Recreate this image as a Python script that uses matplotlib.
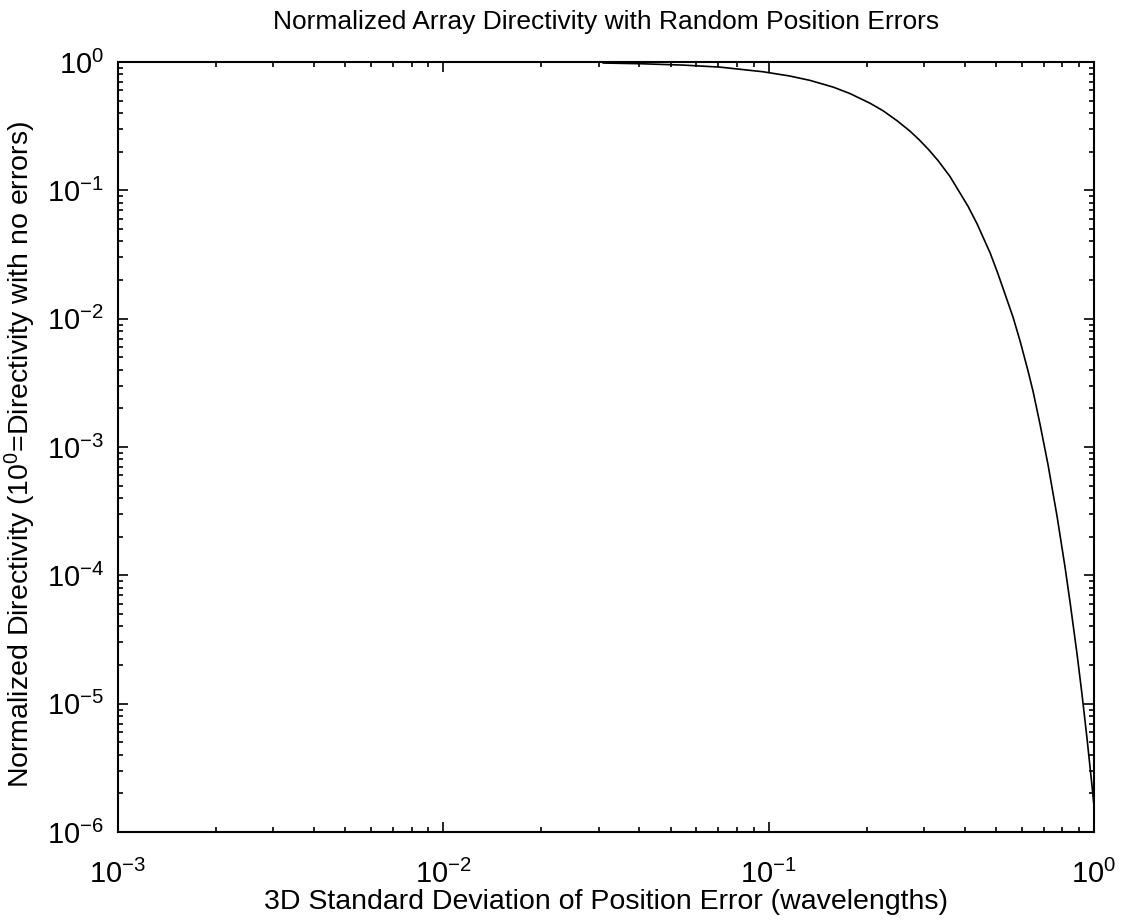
import numpy as np
import matplotlib
matplotlib.use("Agg")
import matplotlib.pyplot as plt
from matplotlib.ticker import LogLocator, FuncFormatter, NullFormatter

# curve (position error std, normalized directivity)
sigma = [0.031, 0.040, 0.0546, 0.071, 0.0962, 0.116, 0.134, 0.158, 0.178,
         0.205, 0.225, 0.248, 0.272, 0.290, 0.310, 0.332, 0.361, 0.410,
         0.437, 0.480, 0.507, 0.541, 0.564, 0.593, 0.627, 0.650, 0.683,
         0.722, 0.770, 0.815, 0.845, 0.888, 0.919, 0.952, 0.986, 1.0]
directivity = [0.982, 0.970, 0.946, 0.912, 0.839, 0.778, 0.719, 0.637,
               0.567, 0.477, 0.416, 0.349, 0.289, 0.248, 0.208, 0.170,
               0.128, 0.0751, 0.0549, 0.0323, 0.0223, 0.0139, 0.01025,
               0.00666, 0.00391, 0.00270, 0.00149, 7.31e-4, 2.88e-4,
               1.15e-4, 6.06e-5, 2.38e-5, 1.17e-5, 5.33e-6, 2.29e-6, 1.59e-6]

title = "Normalized Array Directivity with Random Position Errors"
xlabel = "3D Standard Deviation of Position Error (wavelengths)"
ylabel = "Normalized Directivity ($\\mathregular{10^0}$=Directivity with no errors)"

plt.rcParams['font.family'] = ['Liberation Sans', 'DejaVu Sans']
plt.rcParams['mathtext.fontset'] = 'custom'
plt.rcParams['mathtext.rm'] = 'Liberation Sans'
plt.rcParams['axes.unicode_minus'] = False


def pow_label(v, pos):
    e = int(round(np.log10(v)))
    return "$\\mathregular{10^{%d}}$" % e


fig = plt.figure(figsize=(11.25, 9.24), dpi=100)
ax = fig.add_axes([118 / 1125, 1 - 832 / 924, (1094 - 118) / 1125, (832 - 62) / 924])

ax.plot(sigma, directivity, color='black', linewidth=1.2)
ax.set_xscale('log')
ax.set_yscale('log')
ax.set_xlim(1e-3, 1)
ax.set_ylim(1e-6, 1)

for axis in (ax.xaxis, ax.yaxis):
    axis.set_major_locator(LogLocator(base=10, numticks=10))
    axis.set_minor_locator(LogLocator(base=10, subs=np.arange(2, 10), numticks=10))
    axis.set_major_formatter(FuncFormatter(pow_label))
    axis.set_minor_formatter(NullFormatter())

ax.tick_params(which='both', direction='in', top=True, right=True, labelsize=21)
ax.tick_params(axis='x', which='major', pad=20)
ax.tick_params(axis='y', which='major', pad=10)
ax.tick_params(which='major', length=7, width=1.2)
ax.tick_params(which='minor', length=3.5, width=1.2)
for s in ax.spines.values():
    s.set_linewidth(1.5)

ax.set_title(title, fontsize=19, pad=24)
ax.set_xlabel(xlabel, fontsize=20.5, labelpad=0)
ax.set_ylabel(ylabel, fontsize=20.5)
ax.yaxis.set_label_coords(-0.082, 0.49)

fig.savefig("out.png", dpi=100)
